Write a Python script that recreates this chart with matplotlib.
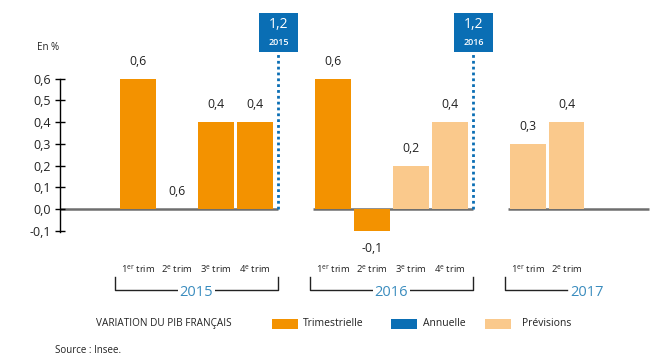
import matplotlib
matplotlib.use("Agg")
import matplotlib.pyplot as plt
from matplotlib.patches import Rectangle

# Données (variation trimestrielle du PIB, en %)
years = ["2015", "2016", "2017"]
quarters = {
    "2015": ["1er", "2e", "3e", "4e"],
    "2016": ["1er", "2e", "3e", "4e"],
    "2017": ["1er", "2e"],
}
values = {
    "2015": [0.6, 0.0, 0.4, 0.4],
    "2016": [0.6, -0.1, 0.2, 0.4],
    "2017": [0.3, 0.4],
}
# étiquettes telles qu'imprimées sur le graphique d'origine
value_labels = {
    "2015": ["0,6", "0,6", "0,4", "0,4"],
    "2016": ["0,6", "-0,1", "0,2", "0,4"],
    "2017": ["0,3", "0,4"],
}
kinds = {
    "2015": ["T", "T", "T", "T"],
    "2016": ["T", "T", "P", "P"],
    "2017": ["P", "P"],
}
annual = {"2015": "1,2", "2016": "1,2"}
yticks = [-0.1, 0.0, 0.1, 0.2, 0.3, 0.4, 0.5, 0.6]

ORANGE = "#F39200"
PEACH = "#FAC98C"
BLUE = "#0A6EB4"
YEARBLUE = "#3A8CBE"
GREY = "#6E6E6E"
TXT = "#222222"
colors = {"T": ORANGE, "P": PEACH}

plt.rcParams["font.family"] = ["Open Sans", "DejaVu Sans"]
plt.rcParams["mathtext.fontset"] = "custom"
plt.rcParams["mathtext.rm"] = "Open Sans"

fig = plt.figure(figsize=(6.5, 3.6), dpi=100)
ax = fig.add_axes([0, 0, 1, 1])
ax.set_xlim(-3.54, 13.13)
ax.set_ylim(-0.696, 0.963)

for s in ["top", "right", "bottom"]:
    ax.spines[s].set_visible(False)
ax.spines["left"].set_position(("data", -2))
ax.spines["left"].set_bounds(-0.105, 0.6)
ax.spines["left"].set_linewidth(1)
ax.set_xticks([])
ax.set_yticks(yticks)
ax.set_yticklabels([f"{t:.1f}".replace(".", ",") for t in yticks])
ax.tick_params(axis="y", direction="inout", length=7, width=1,
               labelsize=9, labelcolor=TXT, pad=3)
ax.patch.set_visible(False)

width = 0.9
start = 0
for i, yr in enumerate(years):
    n = len(values[yr])
    xs = [start + k for k in range(n)]
    ax.bar(xs, values[yr], width, color=[colors[c] for c in kinds[yr]],
           zorder=2)
    for k, (x, v, lab) in enumerate(zip(xs, values[yr], value_labels[yr])):
        if v < 0:
            ax.text(x, v - 0.05, lab, ha="center", va="top",
                    fontsize=8.8, color=TXT)
        else:
            ax.text(x, v + 0.05, lab, ha="center", va="bottom",
                    fontsize=8.8, color=TXT)
        q = quarters[yr][k]
        ax.text(x, -0.276, f"{q[0]}$^{{\\mathrm{{{q[1:]}}}}}$ trim",
                ha="center", va="center", fontsize=6.8, color=TXT)

    # ligne de base
    left = -2 if i == 0 else start - 0.5
    right = start + n - 0.4 if yr in annual else 13.1
    ax.plot([left, right], [0, 0], color=GREY, lw=1.8, zorder=1,
            solid_capstyle="butt")

    # accolade des années
    bl = start - 0.6
    if yr in annual:
        br = start + n - 0.4
        ax.plot([bl, bl, br, br], [-0.313, -0.373, -0.373, -0.313],
                color=TXT, lw=1)
        ax.text((bl + br) / 2, -0.383, yr, ha="center", va="center",
                fontsize=10.5, color=YEARBLUE,
                bbox=dict(facecolor="white", edgecolor="none", pad=1.5))
    else:
        br = start + n - 1
        ax.plot([bl, bl, br], [-0.313, -0.373, -0.373], color=TXT, lw=1)
        ax.text(br + 0.08, -0.383, yr, ha="left", va="center",
                fontsize=10.5, color=YEARBLUE)

    # variation annuelle
    if yr in annual:
        xa = start + n - 0.4
        ax.plot([xa, xa], [0, 0.723], color=BLUE, lw=2,
                linestyle=(0, (1, 1.1)), zorder=3)
        ax.add_patch(Rectangle((xa - 0.5, 0.723), 1.0, 0.18,
                               facecolor=BLUE, edgecolor="none",
                               clip_on=False))
        ax.text(xa, 0.85, annual[yr], ha="center", va="center",
                fontsize=10, color="white")
        ax.text(xa, 0.766, yr, ha="center", va="center",
                fontsize=6.5, color="white", fontweight="semibold")
    start += n + 1

ax.text(-2.6, 0.742, "En %", ha="left", va="center", fontsize=7,
        color=TXT)

# légende
ly = -0.53
ax.text(-1.08, ly, "VARIATION DU PIB FRANÇAIS", ha="left", va="center",
        fontsize=7.2, color=TXT)
for x0, col, lab, tx in [(3.44, ORANGE, "Trimestrielle", 4.23),
                         (6.49, BLUE, "Annuelle", 7.31),
                         (8.9, PEACH, "Prévisions", 9.85)]:
    ax.add_patch(Rectangle((x0, ly - 0.024), 0.66, 0.048,
                           facecolor=col, edgecolor="none"))
    ax.text(tx, ly, lab, ha="left", va="center", fontsize=7.5, color=TXT)

ax.text(-2.13, -0.65, "Source : Insee.", ha="left", va="center",
        fontsize=7, color=TXT)

fig.savefig("out.png", dpi=100)
